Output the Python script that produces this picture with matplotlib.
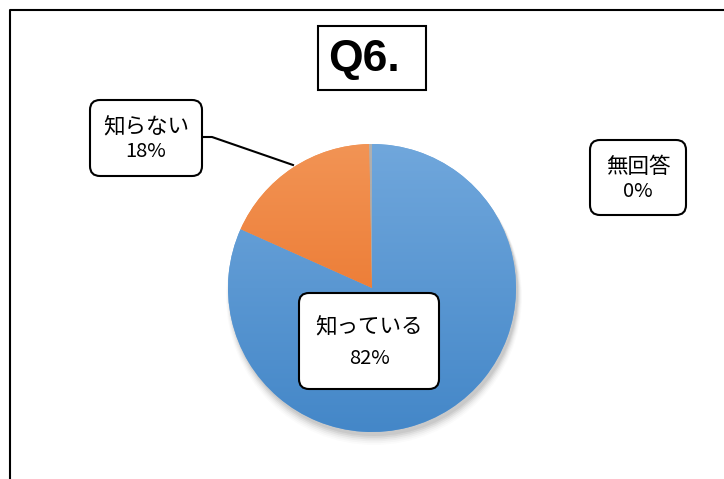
import matplotlib
matplotlib.use("Agg")
import matplotlib.pyplot as plt
import numpy as np
from matplotlib.patches import FancyBboxPatch, Circle, Rectangle
from matplotlib.colors import LinearSegmentedColormap

plt.rcParams['font.family'] = ['Noto Sans CJK JP', 'DejaVu Sans']

# --- data ---
categories = ["知っている", "知らない", "無回答"]
values = [81.7, 18.0, 0.3]
pct_labels = ["82%", "18%", "0%"]
title = "Q6."

# gradient colours (top, bottom) per slice
grad_colors = [("#70a7dc", "#4487c8"), ("#f29455", "#e8691c"), ("#b0b0b0", "#9a9a9a")]

W, H = 724, 479
fig = plt.figure(figsize=(W / 100, H / 100), dpi=100)
ax = fig.add_axes([0, 0, 1, 1])

def py(y):
    # pixel row (from top) -> data y
    return H - y

cx, cy, r = 372, py(288), 144

# soft shadow
for i, a in enumerate(np.linspace(0.06, 0.015, 6)):
    ax.add_patch(Circle((cx + 2, cy - 4 - i), r + i * 0.8, color="black", alpha=a, lw=0, zorder=1))

wedges, _ = ax.pie(values, startangle=90, counterclock=False, center=(cx, cy), radius=r,
                   colors=[c[0] for c in grad_colors], frame=True,
                   wedgeprops=dict(linewidth=0, zorder=2))

grad = np.linspace(0, 1, 256).reshape(-1, 1)
for w, (top, bot) in zip(wedges, grad_colors):
    cmap = LinearSegmentedColormap.from_list("g", [top, bot])
    im = ax.imshow(grad, cmap=cmap, aspect="auto", origin="upper",
                   extent=(cx - r, cx + r, cy - r, cy + r), zorder=3)
    im.set_clip_path(w)

ax.set_xlim(0, W)
ax.set_ylim(0, H)
ax.set_aspect("equal")
ax.axis("off")

# outer frame
ax.plot([10, 10, W + 5], [py(H + 5), py(10), py(10)], color="black", lw=1.5, zorder=5)

# title box
ax.add_patch(Rectangle((318, py(90)), 108, 64, fill=False, ec="black", lw=1.5, zorder=5))
ax.text(364, py(59), title, ha="center", va="center", fontsize=32, fontweight="bold",
        family="Liberation Sans", zorder=6)

# label boxes: (x0, y0, w, h) in pixel coords
boxes = [(299, 293, 140, 96), (90, 100, 112, 76), (590, 140, 96, 75)]
for (x0, y0, bw, bh), cat, pct in zip(boxes, categories, pct_labels):
    ax.add_patch(FancyBboxPatch((x0 + 10, py(y0 + bh) + 10), bw - 20, bh - 20,
                                boxstyle="round,pad=10", fc="white", ec="black", lw=1.5, zorder=7))
    xc = x0 + bw / 2
    ax.text(xc, py(y0 + bh * 0.36), cat, ha="center", va="center", fontsize=15.5, zorder=8)
    ax.text(xc, py(y0 + bh * 0.68), pct, ha="center", va="center", fontsize=14.5, zorder=8)

# leader line for 知らない
ax.plot([202, 212, 293], [py(137), py(137), py(165)], color="black", lw=1.5, zorder=6)

fig.savefig("out.png", dpi=100, facecolor="white")
